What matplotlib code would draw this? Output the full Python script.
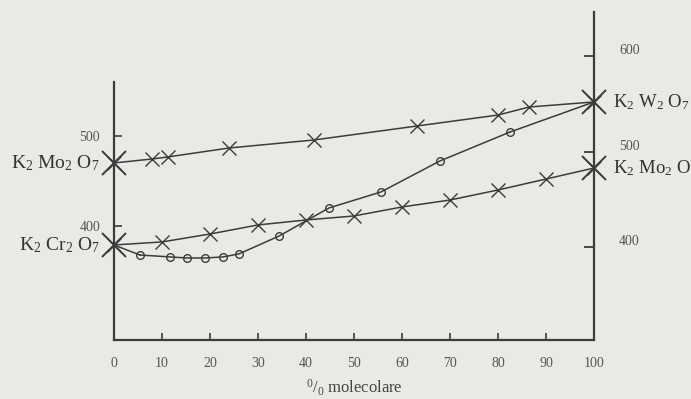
import matplotlib.pyplot as plt
import matplotlib.transforms as mtransforms

plt.rcParams['font.family'] = ['Liberation Serif', 'DejaVu Serif']
plt.rcParams['mathtext.fontset'] = 'custom'
plt.rcParams['mathtext.rm'] = 'Liberation Serif'
plt.rcParams['mathtext.default'] = 'regular'

# K2Mo2O7 - K2W2O7 (upper curve)
pct_mo_w = [0, 8, 11.2, 24, 41.7, 63.1, 80, 86.5, 100]
temp_mo_w = [488.5, 492.7, 494.8, 504.2, 512.6, 527.2, 538.7, 547.1, 552.4]

# K2Cr2O7 - K2Mo2O7 (middle curve)
pct_cr_mo = [0, 10, 20, 30, 40, 50, 60, 70, 80, 90, 100]
temp_cr_mo = [402.6, 405.8, 414.1, 423.6, 428.8, 433.0, 442.4, 449.7, 460.2, 471.7, 483.2]

# K2Cr2O7 - K2W2O7 (circles)
pct_cr_w = [0, 5.4, 11.7, 15.2, 19.0, 22.7, 26.0, 34.4, 44.8, 55.6, 67.9, 82.5, 100]
temp_cr_w = [402.6, 392.1, 390.1, 389.0, 389.0, 390.1, 393.2, 412.0, 441.4, 458.1, 490.6, 520.9, 552.4]

x_ticks = [0, 10, 20, 30, 40, 50, 60, 70, 80, 90, 100]
right_ticks = [400, 500, 600]
left_ticks = [400, 500]

bg = '#e9e9e6'
ink = '#3c3c3c'

fig = plt.figure(figsize=(6.91, 3.99), dpi=100, facecolor=bg)
ax = fig.add_axes([114 / 691, 59 / 399, 480 / 691, 328 / 399])
ax.set_facecolor('none')
ax.set_xlim(0, 100)
ax.set_ylim(303.1, 646.6)

# left scale is drawn a bit differently in the original
axl = ax.twinx()
axl.set_ylim(273.3, 637.8)
axl.yaxis.tick_left()
axl.set_yticks(left_ticks)
axl.tick_params(axis='y', direction='in', length=6, width=1.2, colors=ink,
                labelsize=10, pad=10, labelcolor='#555555')
for s in axl.spines.values():
    s.set_visible(False)

for s in ['top', 'left']:
    ax.spines[s].set_visible(False)
ax.spines['right'].set_linewidth(1.6)
ax.spines['bottom'].set_linewidth(1.6)
ax.spines['right'].set_color(ink)
ax.spines['bottom'].set_color(ink)
ax.plot([0, 0], [303.1, 573.3], color=ink, lw=1.6, clip_on=False)

ax.yaxis.tick_right()
ax.set_yticks(right_ticks)
ax.tick_params(axis='y', direction='in', length=7, width=1.3, colors=ink,
               labelsize=10, pad=18, labelcolor='#555555')
# labels on the right sit a little above their ticks
shift = mtransforms.ScaledTranslation(0, 7 / 100, fig.dpi_scale_trans)
for lab in ax.get_yticklabels():
    lab.set_transform(lab.get_transform() + shift)

ax.set_xticks(x_ticks)
ax.tick_params(axis='x', direction='in', length=5, width=1.2, colors=ink,
               labelsize=10, pad=12, labelcolor='#555555')
ax.set_xlabel('$^{0}/_{0}$ molecolare', fontsize=12, color='#444444', labelpad=6)

lk = dict(color=ink, lw=1.1, clip_on=False)
ax.plot(pct_mo_w, temp_mo_w, marker='x', ms=10, mew=1.0, **lk)
ax.plot(pct_cr_mo, temp_cr_mo, marker='x', ms=10, mew=1.0, **lk)
ax.plot(pct_cr_w[1:-1], temp_cr_w[1:-1], marker='o', ms=5.5, mew=1.0,
        mfc='none', **lk)
ax.plot(pct_cr_w[:2], temp_cr_w[:2], **lk)
ax.plot(pct_cr_w[-2:], temp_cr_w[-2:], **lk)

# big crosses at pure salts
ends_x = [0, 0, 100, 100]
ends_y = [temp_mo_w[0], temp_cr_mo[0], temp_mo_w[-1], temp_cr_mo[-1]]
ax.plot(ends_x, ends_y, ls='none', marker='x', ms=17, mew=1.4, color=ink,
        clip_on=False)

tk = dict(fontsize=14, color='#333333', va='center')
ax.text(-3, temp_mo_w[0], 'K$_2$ Mo$_2$ O$_7$', ha='right', **tk)
ax.text(-3, temp_cr_mo[0], 'K$_2$ Cr$_2$ O$_7$', ha='right', **tk)
tk['fontsize'] = 13.5
ax.text(104, temp_mo_w[-1], 'K$_2$ W$_2$ O$_7$', ha='left', **tk)
ax.text(104, temp_cr_mo[-1], 'K$_2$ Mo$_2$ O$_7$', ha='left', **tk)

fig.savefig('out.png', dpi=100, facecolor=bg)
